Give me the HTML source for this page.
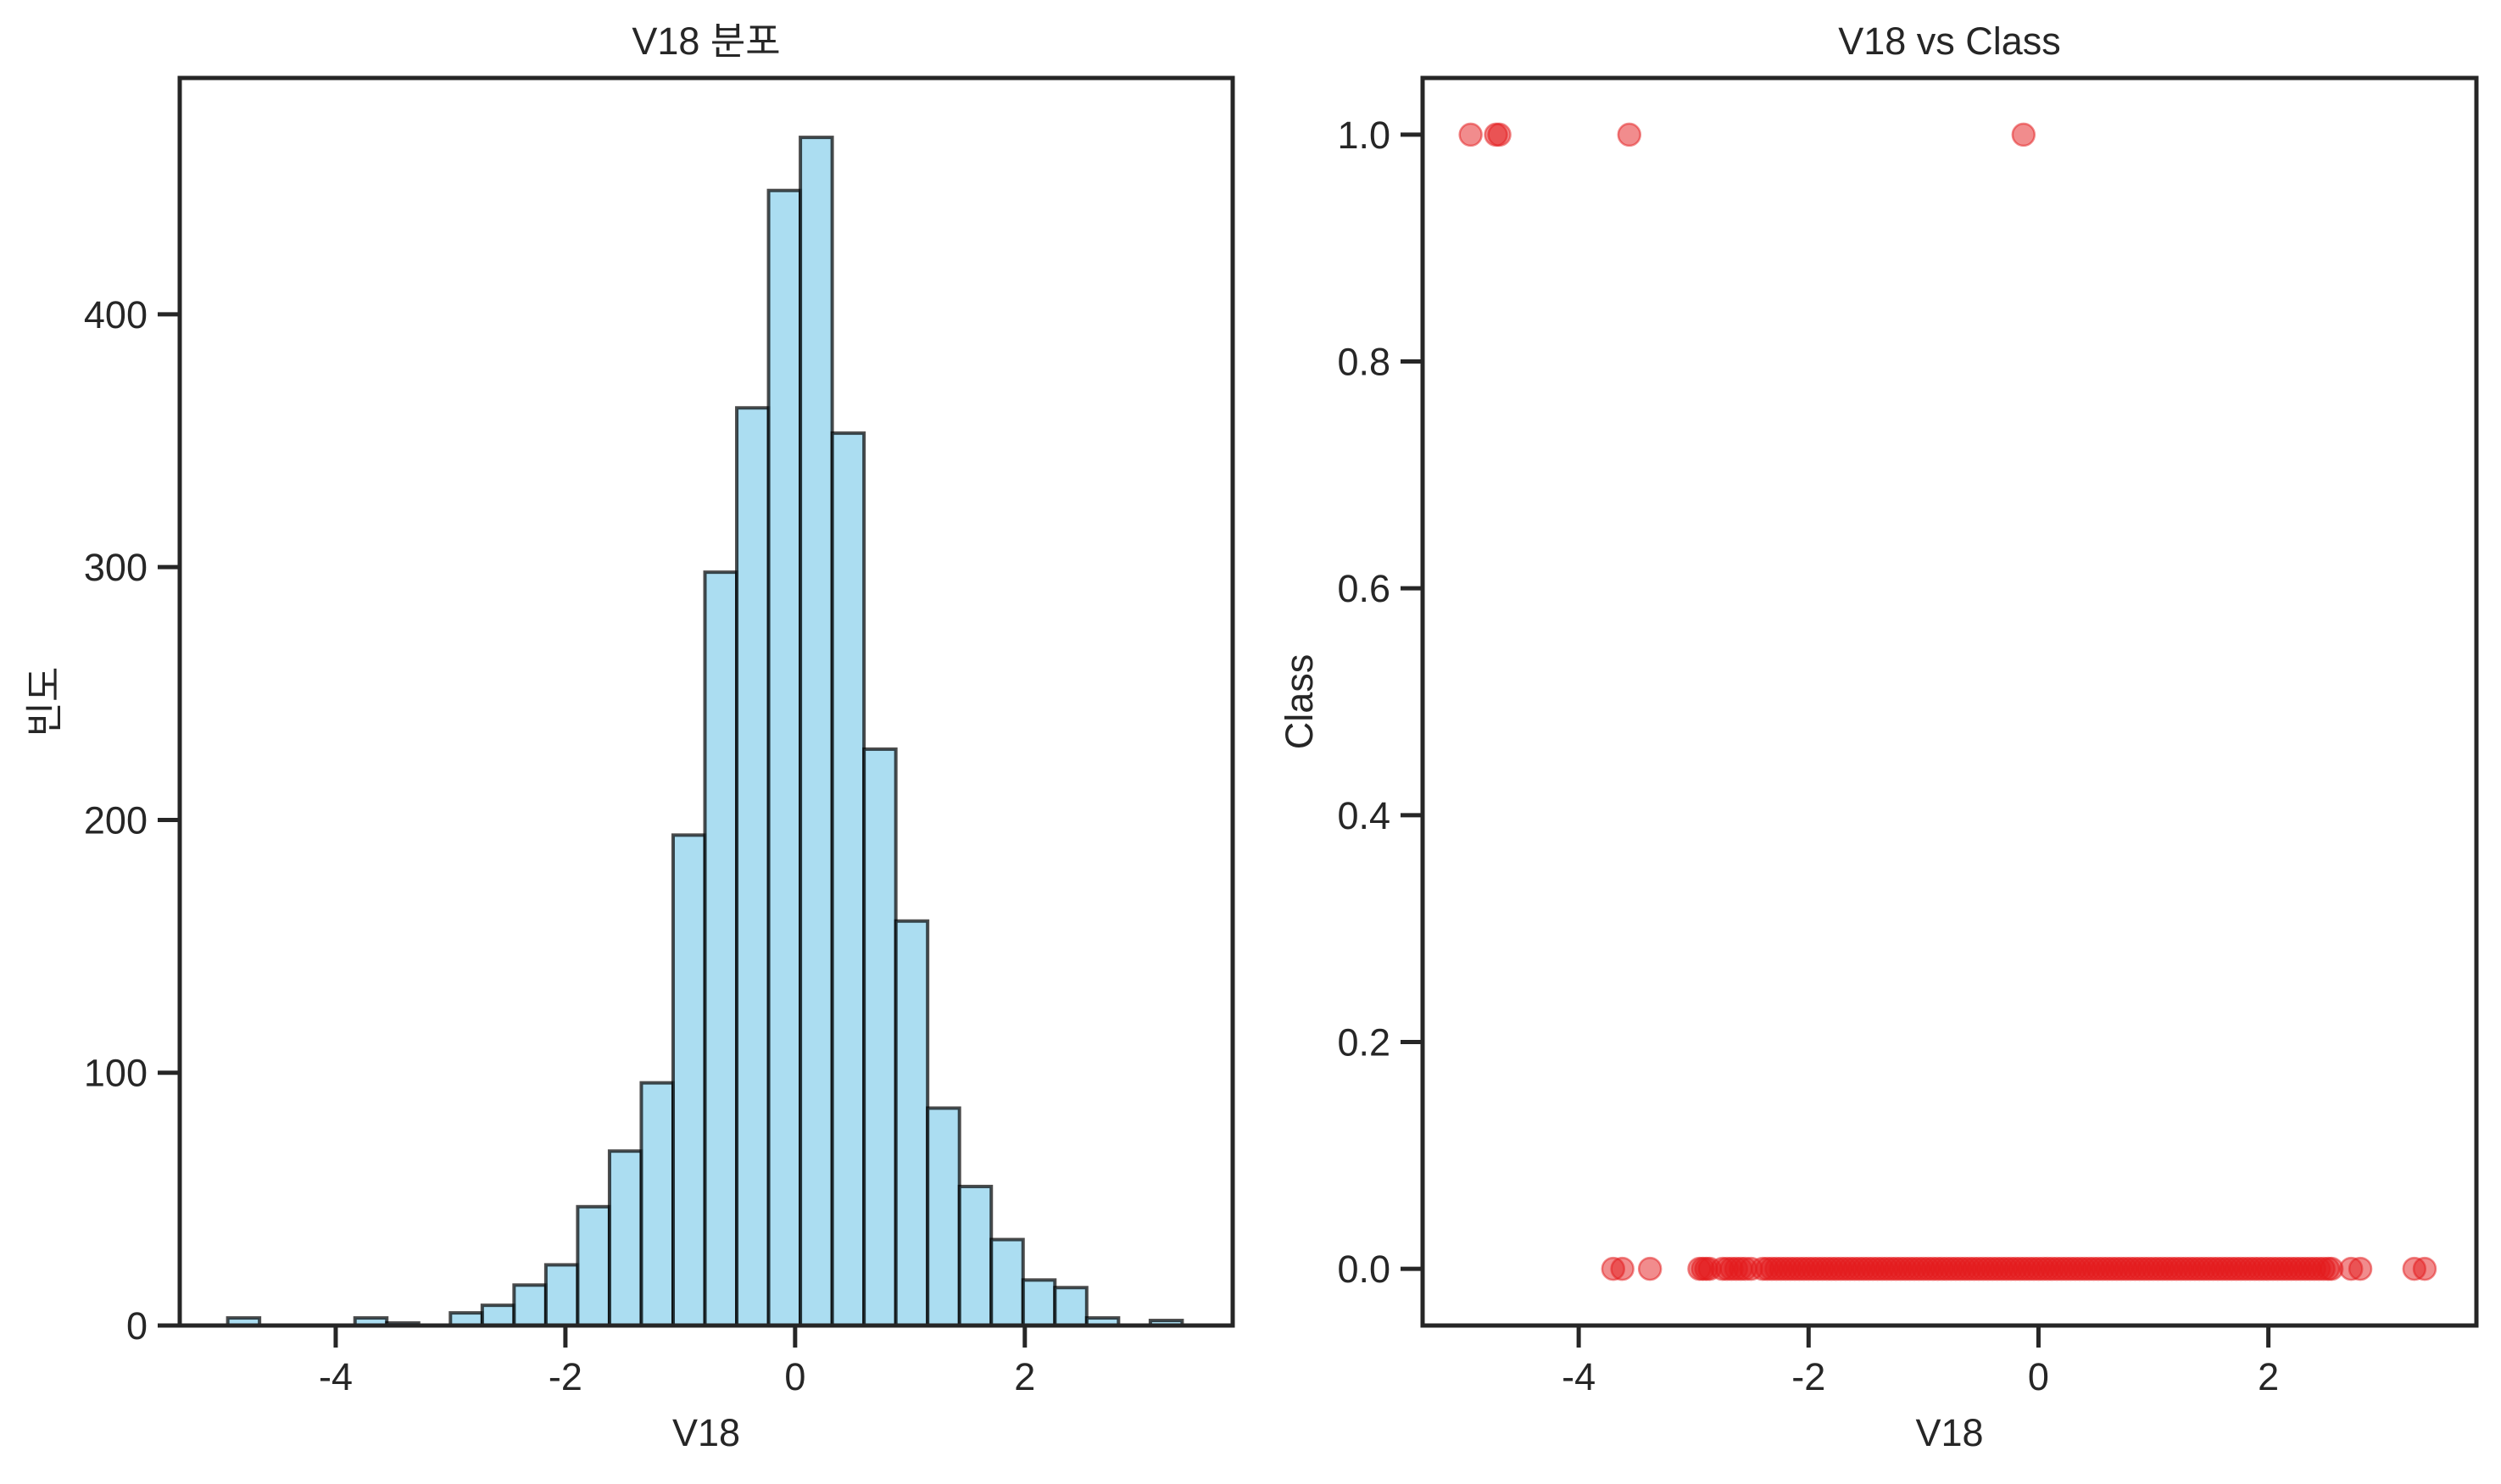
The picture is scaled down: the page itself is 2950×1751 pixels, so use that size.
<!DOCTYPE html>
<html><head><meta charset="utf-8">
<style>
html,body{margin:0;padding:0;background:#fff;}
svg text{font-family:"Liberation Sans","Noto Sans CJK KR",sans-serif;fill:#262626;}
</style></head>
<body>
<svg id="fig" width="2950" height="1746" viewBox="0 0 2950 1746" xmlns="http://www.w3.org/2000/svg">
<rect width="2950" height="1746" fill="#fff"/>
<g id="left"></g>
<g id="right"></g>
</svg>
<script>
// Histogram data
const binStart = -4.94;
const binWidth = 0.277;
const histCounts = [3,0,0,0,3,1,0,5,8,16,24,47,69,96,194,298,363,449,470,353,228,160,86,55,34,18,15,3,0,2];
const histYTicks = [0,100,200,300,400];
const xTicks = [-4,-2,0,2];
// Scatter data
const class1X = [-4.94,-4.72,-4.69,-3.56,-0.13];
const class0X = [-3.70,-3.62,-3.38,-2.95,-2.92,-2.89,-2.86,-2.75,-2.71,-2.67,-2.63,-2.59,-2.55,-2.50,
-2.40,-2.36,-2.32,-2.28,-2.24,-2.20,-2.16,-2.12,-2.08,-2.04,-2.00,-1.96,-1.92,-1.88,-1.84,-1.80,-1.76,-1.72,-1.68,-1.64,-1.60,-1.56,-1.52,-1.48,-1.44,-1.40,-1.36,-1.32,-1.28,-1.24,-1.20,-1.16,-1.12,-1.08,-1.04,-1.00,-0.96,-0.92,-0.88,-0.84,-0.80,-0.76,-0.72,-0.68,-0.64,-0.60,-0.56,-0.52,-0.48,-0.44,-0.40,-0.36,-0.32,-0.28,-0.24,-0.20,-0.16,-0.12,-0.08,-0.04,0.00,0.04,0.08,0.12,0.16,0.20,0.24,0.28,0.32,0.36,0.40,0.44,0.48,0.52,0.56,0.60,0.64,0.68,0.72,0.76,0.80,0.84,0.88,0.92,0.96,1.00,1.04,1.08,1.12,1.16,1.20,1.24,1.28,1.32,1.36,1.40,1.44,1.48,1.52,1.56,1.60,1.64,1.68,1.72,1.76,1.80,1.84,1.88,1.92,1.96,2.00,2.04,2.08,2.12,2.16,2.20,2.24,2.28,2.32,2.36,2.40,2.44,2.48,2.52,2.55,2.72,2.80,3.27,3.36];
const scatterYTicks = [0.0,0.2,0.4,0.6,0.8,1.0];

const NS = "http://www.w3.org/2000/svg";
function mk(parent, tag, attrs, text){
  const e = document.createElementNS(NS, tag);
  for (const k in attrs) e.setAttribute(k, attrs[k]);
  if (text !== undefined) e.textContent = text;
  parent.appendChild(e);
  return e;
}
const X0 = -5.358, X1 = 3.81;
const FS = 45, INK = "#262626";

function axes(L, R, T, B, yMin, yMax){
  const sx = v => L + (v - X0) / (X1 - X0) * (R - L);
  const sy = v => B - (v - yMin) / (yMax - yMin) * (B - T);
  return {sx, sy};
}

// LEFT: histogram
(function(){
  const g = document.getElementById('left');
  const L=212, R=1454, T=92, B=1564;
  const yMax = 470*1.05;
  const {sx, sy} = axes(L, R, T, B, 0, yMax);
  histCounts.forEach((c, i) => {
    if (c <= 0) return;
    const x0 = sx(binStart + i*binWidth), x1 = sx(binStart + (i+1)*binWidth);
    const r = mk(g, 'rect', {x:x0, y:sy(c), width:x1-x0, height:sy(0)-sy(c), fill:'#87ceeb', 'fill-opacity':0.7, stroke:'#000', 'stroke-opacity':0.7, 'stroke-width':4});
    
    
  });
  mk(g,'rect',{x:L,y:T,width:R-L,height:B-T,fill:'none',stroke:INK,'stroke-width':5,});
  xTicks.forEach(v => {
    const x = sx(v);
    const t = mk(g,'line',{x1:x,x2:x,y1:B,y2:B+26,stroke:INK,'stroke-width':5});
    
    
    const l = mk(g,'text',{x:x,y:1640,'font-size':FS,'text-anchor':'middle'}, String(v));
    
    
  });
  histYTicks.forEach(v => {
    const y = sy(v);
    const t = mk(g,'line',{x1:L-26,x2:L,y1:y,y2:y,stroke:INK,'stroke-width':5});
    
    
    const l = mk(g,'text',{x:L-38,y:y+16,'font-size':FS,'text-anchor':'end'}, String(v));
    
    
  });
  mk(g,'text',{x:(L+R)/2,y:64,'font-size':FS,'text-anchor':'middle',},'V18 분포');
  mk(g,'text',{x:(L+R)/2,y:1706,'font-size':FS,'text-anchor':'middle',},'V18');
  mk(g,'text',{x:0,y:0,'font-size':FS,'text-anchor':'middle',transform:'translate(68,'+((T+B)/2)+') rotate(-90)',},'빈도');
})();

// RIGHT: scatter
(function(){
  const g = document.getElementById('right');
  const L=1678, R=2921, T=92, B=1564;
  const {sx, sy} = axes(L, R, T, B, -0.05, 1.05);
  const pts = class0X.map(x=>[x,0]).concat(class1X.map(x=>[x,1]));
  pts.forEach(p => {
    const c = mk(g,'circle',{cx:sx(p[0]),cy:sy(p[1]),r:13,fill:'#e41a1c','fill-opacity':0.5,stroke:'#e41a1c','stroke-opacity':0.5,'stroke-width':2.5});
    
    
  });
  mk(g,'rect',{x:L,y:T,width:R-L,height:B-T,fill:'none',stroke:INK,'stroke-width':5,});
  xTicks.forEach(v => {
    const x = sx(v);
    const t = mk(g,'line',{x1:x,x2:x,y1:B,y2:B+26,stroke:INK,'stroke-width':5});
    
    
    const l = mk(g,'text',{x:x,y:1640,'font-size':FS,'text-anchor':'middle'}, String(v));
    
    
  });
  scatterYTicks.forEach(v => {
    const y = sy(v);
    const t = mk(g,'line',{x1:L-26,x2:L,y1:y,y2:y,stroke:INK,'stroke-width':5});
    
    
    const l = mk(g,'text',{x:L-38,y:y+16,'font-size':FS,'text-anchor':'end'}, v.toFixed(1));
    
    
  });
  mk(g,'text',{x:(L+R)/2,y:64,'font-size':FS,'text-anchor':'middle',},'V18 vs Class');
  mk(g,'text',{x:(L+R)/2,y:1706,'font-size':FS,'text-anchor':'middle',},'V18');
  mk(g,'text',{x:0,y:0,'font-size':FS,'text-anchor':'middle',transform:'translate(1548,'+((T+B)/2)+') rotate(-90)',},'Class');
})();
</script>
</body></html>
